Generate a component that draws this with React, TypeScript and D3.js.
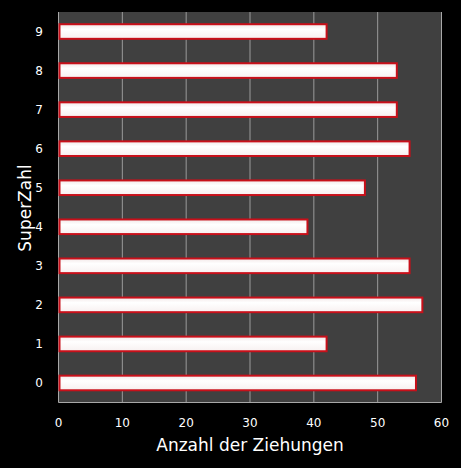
import React from "react";
import * as d3 from "d3";

const categories = ["0", "1", "2", "3", "4", "5", "6", "7", "8", "9"];
const counts = [56, 42, 57, 55, 39, 48, 55, 53, 53, 42];
const xTicks = [0, 10, 20, 30, 40, 50, 60];

const W = 461;
const H = 468;
const margin = { top: 12, right: 20, bottom: 65, left: 58.5 };

function App() {
  const plotW = 441.5 - margin.left;
  const plotH = 402.5 - margin.top;

  const x = d3.scaleLinear().domain([0, 60]).range([margin.left, margin.left + plotW]);
  const y = d3
    .scaleBand()
    .domain([...categories].reverse())
    .range([margin.top, margin.top + plotH])
    .paddingInner(0.6)
    .paddingOuter(0.3);

  const font = "'DejaVu Sans', Verdana, sans-serif";

  return (
    <svg
      width={W}
      height={H}
      style={{ position: "absolute", left: 0, top: 0, background: "#000" }}
    >
      <defs>
        <linearGradient id="barFill" x1="0" y1="0" x2="0" y2="1">
          <stop offset="0" stopColor="#f2e8e8" />
          <stop offset="0.35" stopColor="#ffffff" />
          <stop offset="1" stopColor="#f7f0f0" />
        </linearGradient>
      </defs>
      <rect x={0} y={0} width={W} height={H} fill="#000" />
      <rect x={margin.left} y={margin.top} width={plotW} height={plotH} fill="#404040" />

      {xTicks.slice(1, -1).map((t) => (
        <line
          key={t}
          x1={x(t)}
          x2={x(t)}
          y1={margin.top}
          y2={margin.top + plotH}
          stroke="#9a9a9a"
          strokeWidth={1}
        />
      ))}

      <line x1={margin.left} x2={margin.left} y1={margin.top} y2={margin.top + plotH} stroke="#a8a8a8" />
      <line x1={margin.left + plotW} x2={margin.left + plotW} y1={margin.top} y2={margin.top + plotH} stroke="#a8a8a8" />
      <line x1={margin.left} x2={margin.left + plotW} y1={margin.top + plotH} y2={margin.top + plotH} stroke="#a8a8a8" />

      {categories.map((c, i) => (
        <rect
          key={c}
          x={x(0) + 1}
          y={(y(c) as number) + 0.5}
          width={x(counts[i]) - x(0) - 1}
          height={y.bandwidth() - 1}
          fill="url(#barFill)"
          stroke="#c8101a"
          strokeWidth={2}
        />
      ))}

      {categories.map((c) => (
        <text
          key={c}
          x={43}
          y={(y(c) as number) + y.bandwidth() / 2}
          dy="0.35em"
          textAnchor="end"
          fill="#fff"
          fontSize={12}
          fontFamily={font}
        >
          {c}
        </text>
      ))}

      {xTicks.map((t) => (
        <text
          key={t}
          x={x(t)}
          y={423}
          dy="0.35em"
          textAnchor="middle"
          fill="#fff"
          fontSize={12}
          fontFamily={font}
        >
          {t}
        </text>
      ))}

      <text
        x={250}
        y={445}
        dy="0.35em"
        textAnchor="middle"
        fill="#fff"
        fontSize={17}
        fontFamily={font}
      >
        Anzahl der Ziehungen
      </text>
      <text
        transform={`translate(25,208) rotate(-90)`}
        dy="0.35em"
        textAnchor="middle"
        fill="#fff"
        fontSize={17}
        fontFamily={font}
      >
        SuperZahl
      </text>
    </svg>
  );
}

export default App;
